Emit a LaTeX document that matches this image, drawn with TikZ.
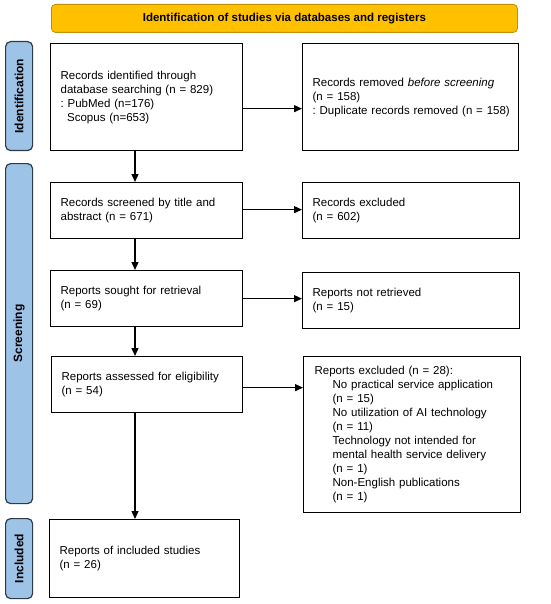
\documentclass[tikz,border=0pt]{standalone}
\usepackage{fontspec}
\setmainfont{Liberation Sans}
\frenchspacing
\usetikzlibrary{arrows.meta}
\definecolor{hdrfill}{HTML}{FFC000}
\definecolor{hdrline}{HTML}{BF9000}
\definecolor{sidefill}{HTML}{9DC3E6}
\definecolor{sideline}{HTML}{2E3B4A}
\begin{document}
\begin{tikzpicture}[x=1pt,y=-1pt,
  flowbox/.style={draw=black, line width=1.3pt, fill=white, anchor=north west,
    inner xsep=10pt, inner ysep=0pt, align=left,
    font={\fontsize{11.5}{14}\selectfont}},
  sidelab/.style={draw=sideline, line width=1.2pt, fill=sidefill, rounded corners=5pt,
    anchor=north west, inner sep=0pt, minimum width=27pt,
    font={\bfseries\fontsize{12}{14}\selectfont}},
  hdr/.style={draw=hdrline, line width=0.8pt, fill=hdrfill, rounded corners=4pt,
    anchor=north west, inner sep=0pt, minimum width=466pt, minimum height=28pt,
    font={\bfseries\fontsize{11.5}{14}\selectfont}},
  arr/.style={line width=1.3pt, -{Triangle[length=8pt,width=7pt]}}]
\useasboundingbox (0,0) rectangle (550,604);

\node[hdr] (head) at (51,4) {Identification of studies via databases and registers};

\node[sidelab, minimum height=109pt] (sid) at (5,41) {};
\node[rotate=90, font={\bfseries\fontsize{12}{14}\selectfont}] (sidt) at (sid.center) {Identification};
\node[sidelab, minimum height=340pt] (ssc) at (5,163) {};
\node[rotate=90, font={\bfseries\fontsize{12}{14}\selectfont}] (ssct) at (ssc.center) {Screening};
\node[sidelab, minimum height=80pt] (sin) at (5,518) {};
\node[rotate=90, font={\bfseries\fontsize{12}{14}\selectfont}] (sint) at (sin.center) {Included};

\node[flowbox, text width=172pt, minimum height=107pt] (b1) at (50,43)
  {Records identified through\\database searching (n = 829)\\: PubMed (n=176)\\\hspace*{6.5pt}Scopus (n=653)};
\node[flowbox, text width=196pt, minimum height=107pt] (r1) at (302,43)
  {Records removed \textit{before screening}\\(n = 158)\\\mbox{: Duplicate records removed (n = 158)}};

\node[flowbox, text width=172pt, minimum height=56pt] (b2) at (50,182)
  {Records screened by title and\\abstract (n = 671)};
\node[flowbox, text width=197pt, minimum height=56pt] (r2) at (302,182)
  {Records excluded\\(n = 602)};

\node[flowbox, text width=172pt, minimum height=56pt] (b3) at (50,270)
  {Reports sought for retrieval\\(n = 69)};
\node[flowbox, text width=197pt, minimum height=56pt] (r3) at (302,272)
  {Reports not retrieved\\(n = 15)};

\node[flowbox, text width=171pt, minimum height=56pt] (b4) at (51,356)
  {Reports assessed for eligibility\\(n = 54)};
\node[flowbox, text width=195pt, minimum height=156pt, inner xsep=11pt] (r4) at (303,356)
  {Reports excluded (n = 28):\\
   \hspace*{18pt}No practical service application\\
   \hspace*{18pt}(n = 15)\\
   \hspace*{18pt}No utilization of AI technology\\
   \hspace*{18pt}(n = 11)\\
   \hspace*{18pt}Technology not intended for\\
   \hspace*{18pt}mental health service delivery\\
   \hspace*{18pt}(n = 1)\\
   \hspace*{18pt}Non-English publications\\
   \hspace*{18pt}(n = 1)};

\node[flowbox, text width=170pt, minimum height=78pt] (b5) at (49,519)
  {Reports of included studies\\(n = 26)};

\coordinate (spine) at (135,0);
\draw[arr] (b1.south -| spine) -- (b2.north -| spine);
\draw[arr] (b2.south -| spine) -- (b3.north -| spine);
\draw[arr] (b3.south -| spine) -- (b4.north -| spine);
\draw[arr] (b4.south -| spine) -- (b5.north -| spine);

\coordinate (a1) at ([yshift=-11.5pt]b1.east);
\coordinate (a2) at ([yshift=1pt]b2.east);
\coordinate (a3) at (b3.east);
\coordinate (a4) at ([yshift=-3pt]b4.east);
\draw[arr] (a1) -- (r1.west |- a1);
\draw[arr] (a2) -- (r2.west |- a2);
\draw[arr] (a3) -- (r3.west |- a3);
\draw[arr] (a4) -- (r4.west |- a4);
\end{tikzpicture}
\end{document}
